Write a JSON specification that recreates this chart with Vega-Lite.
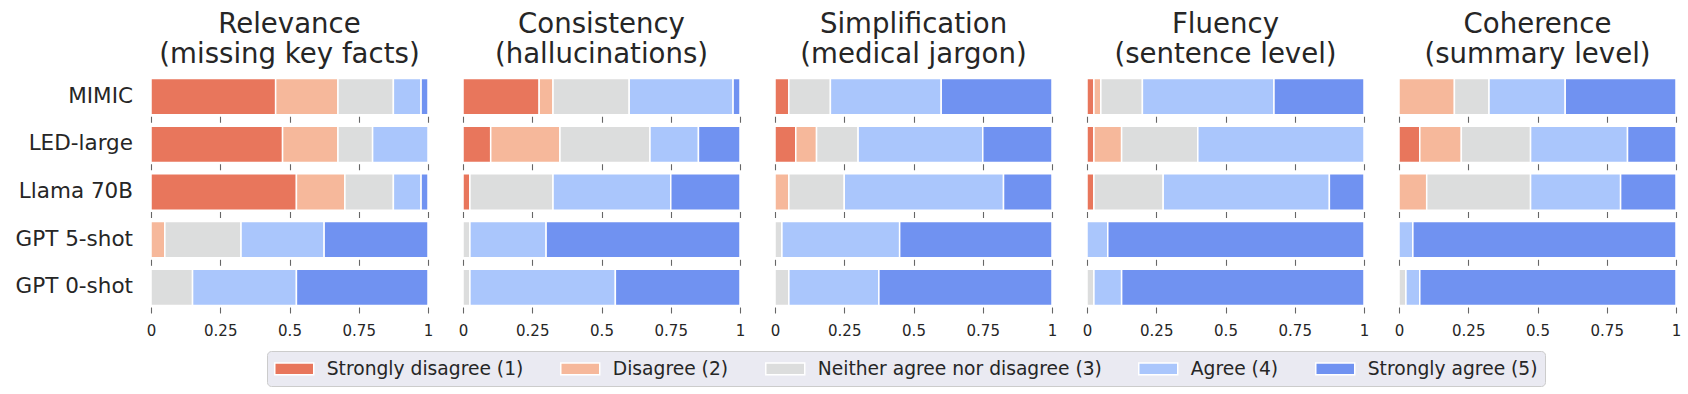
{
  "$schema": "https://vega.github.io/schema/vega-lite/v6.json",
  "padding": {"left": 15, "top": 10, "right": 0, "bottom": 0},
  "background": "white",
  "config": {
    "view": {"stroke": null},
    "font": "DejaVu Sans"
  },
  "data": {"values": [
    {"a":"Relevance|(missing key facts)","m":"MIMIC","k":1,"r":"Strongly disagree (1)","v":0.45},
    {"a":"Relevance|(missing key facts)","m":"MIMIC","k":2,"r":"Disagree (2)","v":0.225},
    {"a":"Relevance|(missing key facts)","m":"MIMIC","k":3,"r":"Neither agree nor disagree (3)","v":0.2},
    {"a":"Relevance|(missing key facts)","m":"MIMIC","k":4,"r":"Agree (4)","v":0.1},
    {"a":"Relevance|(missing key facts)","m":"MIMIC","k":5,"r":"Strongly agree (5)","v":0.025},
    {"a":"Relevance|(missing key facts)","m":"LED-large","k":1,"r":"Strongly disagree (1)","v":0.475},
    {"a":"Relevance|(missing key facts)","m":"LED-large","k":2,"r":"Disagree (2)","v":0.2},
    {"a":"Relevance|(missing key facts)","m":"LED-large","k":3,"r":"Neither agree nor disagree (3)","v":0.125},
    {"a":"Relevance|(missing key facts)","m":"LED-large","k":4,"r":"Agree (4)","v":0.2},
    {"a":"Relevance|(missing key facts)","m":"Llama 70B","k":1,"r":"Strongly disagree (1)","v":0.525},
    {"a":"Relevance|(missing key facts)","m":"Llama 70B","k":2,"r":"Disagree (2)","v":0.175},
    {"a":"Relevance|(missing key facts)","m":"Llama 70B","k":3,"r":"Neither agree nor disagree (3)","v":0.175},
    {"a":"Relevance|(missing key facts)","m":"Llama 70B","k":4,"r":"Agree (4)","v":0.1},
    {"a":"Relevance|(missing key facts)","m":"Llama 70B","k":5,"r":"Strongly agree (5)","v":0.025},
    {"a":"Relevance|(missing key facts)","m":"GPT 5-shot","k":2,"r":"Disagree (2)","v":0.05},
    {"a":"Relevance|(missing key facts)","m":"GPT 5-shot","k":3,"r":"Neither agree nor disagree (3)","v":0.275},
    {"a":"Relevance|(missing key facts)","m":"GPT 5-shot","k":4,"r":"Agree (4)","v":0.3},
    {"a":"Relevance|(missing key facts)","m":"GPT 5-shot","k":5,"r":"Strongly agree (5)","v":0.375},
    {"a":"Relevance|(missing key facts)","m":"GPT 0-shot","k":3,"r":"Neither agree nor disagree (3)","v":0.15},
    {"a":"Relevance|(missing key facts)","m":"GPT 0-shot","k":4,"r":"Agree (4)","v":0.375},
    {"a":"Relevance|(missing key facts)","m":"GPT 0-shot","k":5,"r":"Strongly agree (5)","v":0.475},

    {"a":"Consistency|(hallucinations)","m":"MIMIC","k":1,"r":"Strongly disagree (1)","v":0.275},
    {"a":"Consistency|(hallucinations)","m":"MIMIC","k":2,"r":"Disagree (2)","v":0.05},
    {"a":"Consistency|(hallucinations)","m":"MIMIC","k":3,"r":"Neither agree nor disagree (3)","v":0.275},
    {"a":"Consistency|(hallucinations)","m":"MIMIC","k":4,"r":"Agree (4)","v":0.375},
    {"a":"Consistency|(hallucinations)","m":"MIMIC","k":5,"r":"Strongly agree (5)","v":0.025},
    {"a":"Consistency|(hallucinations)","m":"LED-large","k":1,"r":"Strongly disagree (1)","v":0.1},
    {"a":"Consistency|(hallucinations)","m":"LED-large","k":2,"r":"Disagree (2)","v":0.25},
    {"a":"Consistency|(hallucinations)","m":"LED-large","k":3,"r":"Neither agree nor disagree (3)","v":0.325},
    {"a":"Consistency|(hallucinations)","m":"LED-large","k":4,"r":"Agree (4)","v":0.175},
    {"a":"Consistency|(hallucinations)","m":"LED-large","k":5,"r":"Strongly agree (5)","v":0.15},
    {"a":"Consistency|(hallucinations)","m":"Llama 70B","k":1,"r":"Strongly disagree (1)","v":0.025},
    {"a":"Consistency|(hallucinations)","m":"Llama 70B","k":3,"r":"Neither agree nor disagree (3)","v":0.3},
    {"a":"Consistency|(hallucinations)","m":"Llama 70B","k":4,"r":"Agree (4)","v":0.425},
    {"a":"Consistency|(hallucinations)","m":"Llama 70B","k":5,"r":"Strongly agree (5)","v":0.25},
    {"a":"Consistency|(hallucinations)","m":"GPT 5-shot","k":3,"r":"Neither agree nor disagree (3)","v":0.025},
    {"a":"Consistency|(hallucinations)","m":"GPT 5-shot","k":4,"r":"Agree (4)","v":0.275},
    {"a":"Consistency|(hallucinations)","m":"GPT 5-shot","k":5,"r":"Strongly agree (5)","v":0.7},
    {"a":"Consistency|(hallucinations)","m":"GPT 0-shot","k":3,"r":"Neither agree nor disagree (3)","v":0.025},
    {"a":"Consistency|(hallucinations)","m":"GPT 0-shot","k":4,"r":"Agree (4)","v":0.525},
    {"a":"Consistency|(hallucinations)","m":"GPT 0-shot","k":5,"r":"Strongly agree (5)","v":0.45},

    {"a":"Simplification|(medical jargon)","m":"MIMIC","k":1,"r":"Strongly disagree (1)","v":0.05},
    {"a":"Simplification|(medical jargon)","m":"MIMIC","k":3,"r":"Neither agree nor disagree (3)","v":0.15},
    {"a":"Simplification|(medical jargon)","m":"MIMIC","k":4,"r":"Agree (4)","v":0.4},
    {"a":"Simplification|(medical jargon)","m":"MIMIC","k":5,"r":"Strongly agree (5)","v":0.4},
    {"a":"Simplification|(medical jargon)","m":"LED-large","k":1,"r":"Strongly disagree (1)","v":0.075},
    {"a":"Simplification|(medical jargon)","m":"LED-large","k":2,"r":"Disagree (2)","v":0.075},
    {"a":"Simplification|(medical jargon)","m":"LED-large","k":3,"r":"Neither agree nor disagree (3)","v":0.15},
    {"a":"Simplification|(medical jargon)","m":"LED-large","k":4,"r":"Agree (4)","v":0.45},
    {"a":"Simplification|(medical jargon)","m":"LED-large","k":5,"r":"Strongly agree (5)","v":0.25},
    {"a":"Simplification|(medical jargon)","m":"Llama 70B","k":2,"r":"Disagree (2)","v":0.05},
    {"a":"Simplification|(medical jargon)","m":"Llama 70B","k":3,"r":"Neither agree nor disagree (3)","v":0.2},
    {"a":"Simplification|(medical jargon)","m":"Llama 70B","k":4,"r":"Agree (4)","v":0.575},
    {"a":"Simplification|(medical jargon)","m":"Llama 70B","k":5,"r":"Strongly agree (5)","v":0.175},
    {"a":"Simplification|(medical jargon)","m":"GPT 5-shot","k":3,"r":"Neither agree nor disagree (3)","v":0.025},
    {"a":"Simplification|(medical jargon)","m":"GPT 5-shot","k":4,"r":"Agree (4)","v":0.425},
    {"a":"Simplification|(medical jargon)","m":"GPT 5-shot","k":5,"r":"Strongly agree (5)","v":0.55},
    {"a":"Simplification|(medical jargon)","m":"GPT 0-shot","k":3,"r":"Neither agree nor disagree (3)","v":0.05},
    {"a":"Simplification|(medical jargon)","m":"GPT 0-shot","k":4,"r":"Agree (4)","v":0.325},
    {"a":"Simplification|(medical jargon)","m":"GPT 0-shot","k":5,"r":"Strongly agree (5)","v":0.625},

    {"a":"Fluency|(sentence level)","m":"MIMIC","k":1,"r":"Strongly disagree (1)","v":0.025},
    {"a":"Fluency|(sentence level)","m":"MIMIC","k":2,"r":"Disagree (2)","v":0.025},
    {"a":"Fluency|(sentence level)","m":"MIMIC","k":3,"r":"Neither agree nor disagree (3)","v":0.15},
    {"a":"Fluency|(sentence level)","m":"MIMIC","k":4,"r":"Agree (4)","v":0.475},
    {"a":"Fluency|(sentence level)","m":"MIMIC","k":5,"r":"Strongly agree (5)","v":0.325},
    {"a":"Fluency|(sentence level)","m":"LED-large","k":1,"r":"Strongly disagree (1)","v":0.025},
    {"a":"Fluency|(sentence level)","m":"LED-large","k":2,"r":"Disagree (2)","v":0.1},
    {"a":"Fluency|(sentence level)","m":"LED-large","k":3,"r":"Neither agree nor disagree (3)","v":0.275},
    {"a":"Fluency|(sentence level)","m":"LED-large","k":4,"r":"Agree (4)","v":0.6},
    {"a":"Fluency|(sentence level)","m":"Llama 70B","k":1,"r":"Strongly disagree (1)","v":0.025},
    {"a":"Fluency|(sentence level)","m":"Llama 70B","k":3,"r":"Neither agree nor disagree (3)","v":0.25},
    {"a":"Fluency|(sentence level)","m":"Llama 70B","k":4,"r":"Agree (4)","v":0.6},
    {"a":"Fluency|(sentence level)","m":"Llama 70B","k":5,"r":"Strongly agree (5)","v":0.125},
    {"a":"Fluency|(sentence level)","m":"GPT 5-shot","k":4,"r":"Agree (4)","v":0.075},
    {"a":"Fluency|(sentence level)","m":"GPT 5-shot","k":5,"r":"Strongly agree (5)","v":0.925},
    {"a":"Fluency|(sentence level)","m":"GPT 0-shot","k":3,"r":"Neither agree nor disagree (3)","v":0.025},
    {"a":"Fluency|(sentence level)","m":"GPT 0-shot","k":4,"r":"Agree (4)","v":0.1},
    {"a":"Fluency|(sentence level)","m":"GPT 0-shot","k":5,"r":"Strongly agree (5)","v":0.875},

    {"a":"Coherence|(summary level)","m":"MIMIC","k":2,"r":"Disagree (2)","v":0.2},
    {"a":"Coherence|(summary level)","m":"MIMIC","k":3,"r":"Neither agree nor disagree (3)","v":0.125},
    {"a":"Coherence|(summary level)","m":"MIMIC","k":4,"r":"Agree (4)","v":0.275},
    {"a":"Coherence|(summary level)","m":"MIMIC","k":5,"r":"Strongly agree (5)","v":0.4},
    {"a":"Coherence|(summary level)","m":"LED-large","k":1,"r":"Strongly disagree (1)","v":0.075},
    {"a":"Coherence|(summary level)","m":"LED-large","k":2,"r":"Disagree (2)","v":0.15},
    {"a":"Coherence|(summary level)","m":"LED-large","k":3,"r":"Neither agree nor disagree (3)","v":0.25},
    {"a":"Coherence|(summary level)","m":"LED-large","k":4,"r":"Agree (4)","v":0.35},
    {"a":"Coherence|(summary level)","m":"LED-large","k":5,"r":"Strongly agree (5)","v":0.175},
    {"a":"Coherence|(summary level)","m":"Llama 70B","k":2,"r":"Disagree (2)","v":0.1},
    {"a":"Coherence|(summary level)","m":"Llama 70B","k":3,"r":"Neither agree nor disagree (3)","v":0.375},
    {"a":"Coherence|(summary level)","m":"Llama 70B","k":4,"r":"Agree (4)","v":0.325},
    {"a":"Coherence|(summary level)","m":"Llama 70B","k":5,"r":"Strongly agree (5)","v":0.2},
    {"a":"Coherence|(summary level)","m":"GPT 5-shot","k":4,"r":"Agree (4)","v":0.05},
    {"a":"Coherence|(summary level)","m":"GPT 5-shot","k":5,"r":"Strongly agree (5)","v":0.95},
    {"a":"Coherence|(summary level)","m":"GPT 0-shot","k":3,"r":"Neither agree nor disagree (3)","v":0.025},
    {"a":"Coherence|(summary level)","m":"GPT 0-shot","k":4,"r":"Agree (4)","v":0.05},
    {"a":"Coherence|(summary level)","m":"GPT 0-shot","k":5,"r":"Strongly agree (5)","v":0.925}
  ]},
  "facet": {
    "column": {
      "field": "a",
      "type": "nominal",
      "sort": ["Relevance|(missing key facts)", "Consistency|(hallucinations)", "Simplification|(medical jargon)", "Fluency|(sentence level)", "Coherence|(summary level)"],
      "header": {
        "title": null,
        "labelExpr": "split(datum.value, '|')",
        "labelFontSize": 27.6,
        "labelLineHeight": 30.5,
        "labelColor": "#262626",
        "labelFont": "DejaVu Sans",
        "labelPadding": 8
      }
    }
  },
  "spacing": 33,
  "spec": {
    "width": 277,
    "height": 230,
    "mark": {"type": "bar", "stroke": "white", "strokeWidth": 1.5, "opacity": 1},
    "encoding": {
      "y": {
        "field": "m",
        "type": "nominal",
        "sort": ["MIMIC", "LED-large", "Llama 70B", "GPT 5-shot", "GPT 0-shot"],
        "scale": {"paddingInner": 0.24, "paddingOuter": 0.03},
        "axis": {
          "title": null,
          "ticks": false,
          "domain": false,
          "grid": false,
          "labelFontSize": 21.5,
          "labelColor": "#262626",
          "labelPadding": 17.5,
          "labelFont": "DejaVu Sans"
        }
      },
      "x": {
        "field": "v",
        "type": "quantitative",
        "stack": "zero",
        "scale": {"domain": [0, 1], "nice": false, "zero": true},
        "axis": {
          "title": null,
          "values": [0, 0.25, 0.5, 0.75, 1],
          "format": ".2~f",
          "domain": false,
          "tickSize": 6,
          "tickWidth": 1.1,
          "tickColor": "#666666",
          "labelFontSize": 15,
          "labelColor": "#262626",
          "labelPadding": 10,
          "labelFlush": false,
          "labelFont": "DejaVu Sans",
          "grid": true,
          "gridColor": "#666666",
          "gridWidth": 1.1,
          "gridDash": [6, 41.72],
          "gridDashOffset": 6.02
        }
      },
      "order": {"field": "k", "type": "quantitative", "sort": "ascending"},
      "color": {
        "field": "r",
        "type": "nominal",
        "scale": {
          "domain": ["Strongly disagree (1)", "Disagree (2)", "Neither agree nor disagree (3)", "Agree (4)", "Strongly agree (5)"],
          "range": ["#e8765c", "#f6b89b", "#dcdddd", "#aac6fc", "#7092f1"]
        },
        "legend": {
          "title": null,
          "orient": "none",
          "direction": "horizontal",
          "legendX": 116,
          "legendY": 274,
          "columns": 5,
          "symbolType": "M0,-0.6H4V0.6H0Z",
          "symbolSize": 380,
          "symbolOffset": -9.75,
          "symbolStrokeColor": "white",
          "symbolStrokeWidth": 1.5,
          "symbolOpacity": 1,
          "labelFontSize": 18.7,
          "labelFont": "DejaVu Sans",
          "labelColor": "#262626",
          "labelOffset": 41.5,
          "labelLimit": 500,
          "columnPadding": 33,
          "padding": 7,
          "fillColor": "#eaeaf2",
          "strokeColor": "#cccccc",
          "cornerRadius": 4
        }
      }
    }
  }
}
